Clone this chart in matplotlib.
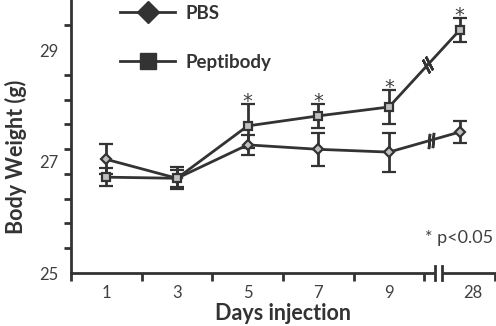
import numpy as np
import matplotlib
matplotlib.use("Agg")
import matplotlib.pyplot as plt
from matplotlib.lines import Line2D
from matplotlib.patches import Rectangle
import matplotlib.transforms as mtransforms

plt.rcParams['font.family'] = ['Lato', 'DejaVu Sans']

# ---- data ----
days = ["1", "3", "5", "7", "9", "28"]
pbs_mean = [27.04, 26.70, 27.30, 27.22, 27.17, 27.53]
pbs_err = [0.27, 0.20, 0.18, 0.30, 0.35, 0.20]
pep_mean = [26.72, 26.70, 27.64, 27.82, 27.98, 29.36]
pep_err = [0.16, 0.15, 0.39, 0.21, 0.30, 0.21]
significant = [False, False, True, True, True, True]
ytick_labels = [25, 27, 29]
note = "* p<0.05"

dark = "#333333"
txt = "#404040"

W, H = 496, 326
fig = plt.figure(figsize=(W / 100, H / 100), dpi=100)
ax = fig.add_axes([71 / W, (326 - 273) / H, (495 - 71) / W, 273 / H])

x = np.arange(len(days))
ax.set_xlim(-0.49, len(days) - 0.5)
ax.set_ylim(25, 29.9)

ax.errorbar(x, pbs_mean, yerr=pbs_err, color=dark, lw=2, marker='D', ms=5.5,
            mfc='#c0c0c0', mec=dark, mew=1.6, elinewidth=2, capsize=5, capthick=2,
            zorder=3)
ax.errorbar(x, pep_mean, yerr=pep_err, color=dark, lw=2, marker='s', ms=5.5,
            mfc='#c0c0c0', mec=dark, mew=1.6, elinewidth=2, capsize=5, capthick=2,
            zorder=3)

# significance stars
for xi, m, e, s in zip(x, pep_mean, pep_err, significant):
    if s:
        ax.annotate("*", (xi, m + e), xytext=(0, 2), textcoords='offset points',
                    ha='center', va='center', fontsize=14, color=txt,
                    family='DejaVu Sans', annotation_clip=False)

# break marks on the last segment of each line
fig.canvas.draw()
def seg_break(means, t0, t1):
    i = len(means) - 2
    p0 = ax.transData.transform((x[i], means[i]))
    p1 = ax.transData.transform((x[i + 1], means[i + 1]))
    ang = np.degrees(np.arctan2(p1[1] - p0[1], p1[0] - p0[0]))
    for t in (t0, t1):
        xx = x[i] + t * (x[i + 1] - x[i])
        yy = means[i] + t * (means[i + 1] - means[i])
        ax.plot([xx], [yy], marker=(2, 2, ang + 70 - 90), ms=11, mew=1.8,
                color=dark, zorder=4, ls='none')
seg_break(pep_mean, 0.53, 0.57)
seg_break(pbs_mean, 0.57, 0.62)

# axes styling
for side in ('top', 'right'):
    ax.spines[side].set_visible(False)
for side in ('left', 'bottom'):
    ax.spines[side].set_color(dark)
    ax.spines[side].set_linewidth(2)

ax.set_xticks(x)
ax.set_xticklabels(days)
ax.set_xticks(np.arange(-0.5, len(days)), minor=True)
ax.tick_params(axis='x', which='major', length=0, pad=9, labelsize=12, labelcolor=txt)
ax.tick_params(axis='x', which='minor', length=6, width=2, color=dark, direction='out')
# nudge the last label a bit to the right as in the original
off = mtransforms.ScaledTranslation(13 / 100, 0, fig.dpi_scale_trans)
lab = ax.get_xticklabels()[-1]
lab.set_transform(lab.get_transform() + off)

ax.set_yticks(ytick_labels)
ax.set_yticks(25 + np.arange(11) * 4 / 9, minor=True)
ax.tick_params(axis='y', which='major', length=0, pad=9, labelsize=12, labelcolor=txt)
ax.tick_params(axis='y', which='minor', length=5, width=2, color=dark, direction='out')

# x-axis break
bx = 4.7
tr = mtransforms.blended_transform_factory(ax.transData, ax.transAxes)
ax.add_patch(Rectangle((bx - 0.05, -0.01), 0.1, 0.02, transform=tr, color='white',
                       clip_on=False, zorder=5))
for d in (-0.05, 0.05):
    ax.add_line(Line2D([bx + d, bx + d], [-0.025, 0.025], transform=tr, color=dark,
                       lw=2, clip_on=False, zorder=6))

ax.set_xlabel("Days injection", fontsize=15.5, fontweight='bold', color=dark, labelpad=1)
ax.set_ylabel("Body Weight (g)", fontsize=15.5, fontweight='bold', color=dark)
ax.yaxis.set_label_coords(-44 / 424, 0.425)

ax.text(0.995, 0.13, note, transform=ax.transAxes, ha='right', va='center',
        fontsize=13, color=txt)

handles = [
    Line2D([], [], color=dark, lw=2, marker='D', ms=11, mfc=dark, mec=dark),
    Line2D([], [], color=dark, lw=2, marker='s', ms=11, mfc=dark, mec=dark),
]
ax.legend(handles, ["PBS", "Peptibody"], loc='upper left',
          bbox_to_anchor=(120 / W, 1 - 5 / H), bbox_transform=fig.transFigure,
          frameon=False, borderpad=0, borderaxespad=0, handlelength=2.95,
          handletextpad=0.55, labelspacing=1.7,
          prop={'weight': 'bold', 'size': 13.5}, labelcolor=dark)

fig.savefig("out.png", dpi=100)
